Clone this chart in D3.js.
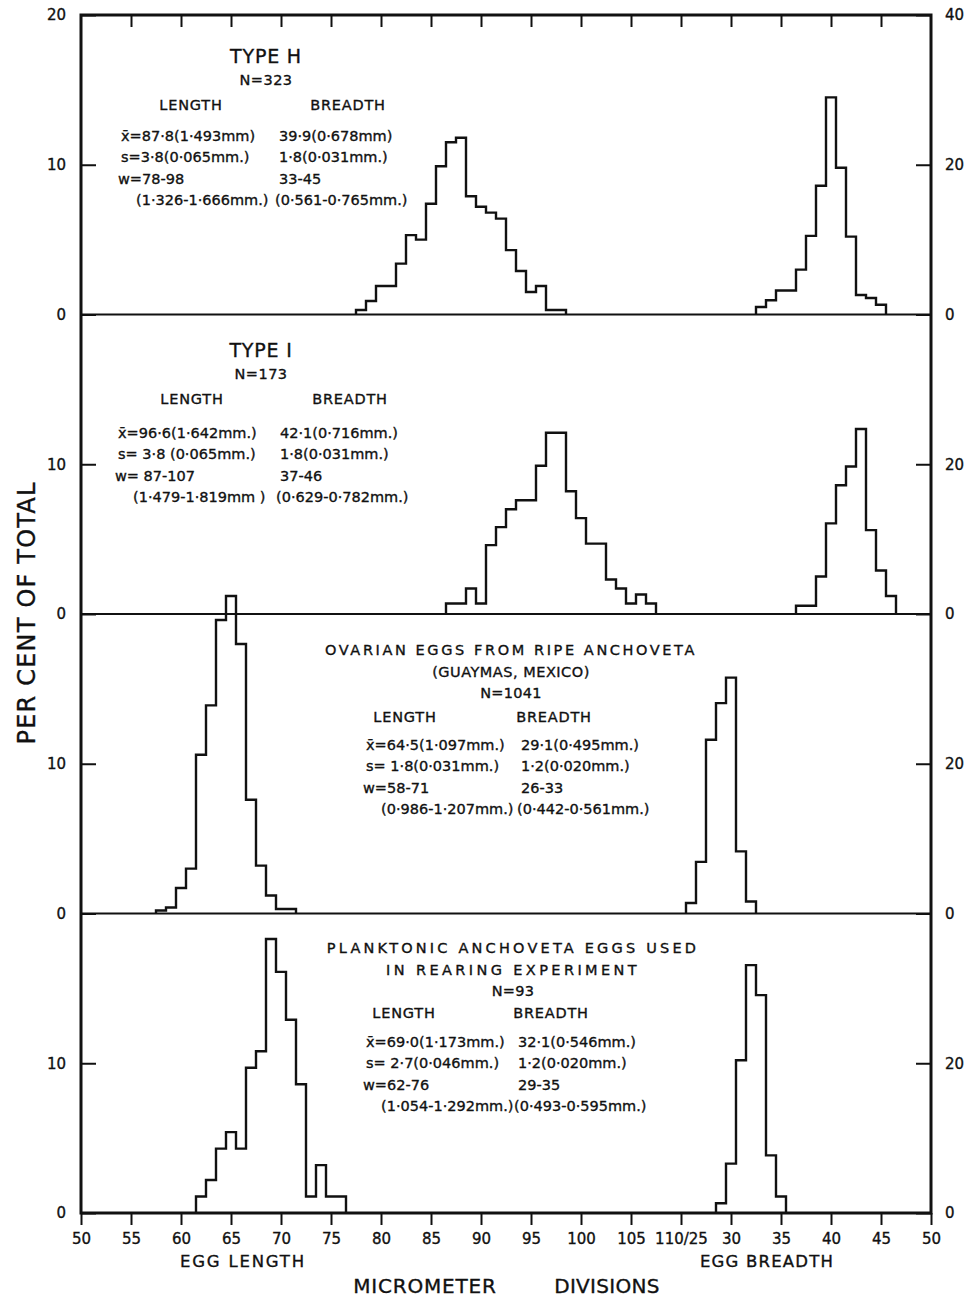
<!DOCTYPE html>
<html>
<head>
<meta charset="utf-8">
<script src="https://d3js.org/d3.v7.min.js"></script>
<style>
  body { margin: 0; background: #fff; }
  svg text { font-family: "DejaVu Sans", sans-serif; fill: #111; stroke: #111; stroke-width: 0.35px; }
</style>
</head>
<body>
<svg id="chart" width="974" height="1300"></svg>
<script>
// per cent of total for each micrometer division (bins centred on whole divisions)
const typeHLengthFrom = 78;
const typeHLength = [0.3, 0.9, 1.9, 1.9, 3.4, 5.3, 5.0, 7.4, 9.9, 11.5, 11.8, 7.9, 7.2, 6.8, 6.4, 4.3, 2.9, 1.5, 1.9, 0.3, 0.3];
const typeHBreadthFrom = 33;
const typeHBreadth = [1.0, 1.9, 3.2, 3.2, 6.0, 10.5, 17.2, 29.0, 19.6, 10.4, 2.6, 2.2, 1.3];

const typeILengthFrom = 87;
const typeILength = [0.7, 0.7, 1.7, 0.7, 4.6, 5.8, 7.0, 7.6, 7.6, 9.9, 12.1, 12.1, 8.2, 6.4, 4.7, 4.7, 2.3, 1.7, 0.7, 1.3, 0.7];
const typeIBreadthFrom = 37;
const typeIBreadth = [1.1, 1.1, 5.0, 12.1, 17.2, 19.7, 24.7, 11.2, 5.8, 2.4];

const ovarianLengthFrom = 58;
const ovarianLength = [0.2, 0.4, 1.7, 3.0, 10.6, 13.9, 19.6, 21.2, 18.0, 7.6, 3.2, 1.2, 0.3, 0.3];
const ovarianBreadthFrom = 26;
const ovarianBreadth = [1.4, 6.9, 23.2, 28.1, 31.5, 8.3, 1.6];

const planktonLengthFrom = 62;
const planktonLength = [1.1, 2.2, 4.3, 5.4, 4.3, 9.7, 10.8, 18.3, 16.1, 12.9, 8.6, 1.1, 3.2, 1.1, 1.1];
const planktonBreadthFrom = 29;
const planktonBreadth = [1.3, 6.6, 20.4, 33.1, 29.1, 7.7, 2.2];

// tick labels
const lengthTicks = [50, 55, 60, 65, 70, 75, 80, 85, 90, 95, 100, 105, 110];
const breadthTicks = [30, 35, 40, 45, 50];

// panel texts
const typeHTitle = ["TYPE H", "N=323"];
const typeHStats = [
  ["x\u0304=87\u00b78(1\u00b7493mm)", "39\u00b79(0\u00b7678mm)"],
  ["s=3\u00b78(0\u00b7065mm.)", "1\u00b78(0\u00b7031mm.)"],
  ["w=78-98", "33-45"],
  ["(1\u00b7326-1\u00b7666mm.)", "(0\u00b7561-0\u00b7765mm.)"]
];
const typeITitle = ["TYPE I", "N=173"];
const typeIStats = [
  ["x\u0304=96\u00b76(1\u00b7642mm.)", "42\u00b71(0\u00b7716mm.)"],
  ["s= 3\u00b78 (0\u00b7065mm.)", "1\u00b78(0\u00b7031mm.)"],
  ["w= 87-107", "37-46"],
  ["(1\u00b7479-1\u00b7819mm )", "(0\u00b7629-0\u00b7782mm.)"]
];
const ovarianTitle = ["OVARIAN EGGS FROM RIPE ANCHOVETA", "(GUAYMAS, MEXICO)", "N=1041"];
const ovarianStats = [
  ["x\u0304=64\u00b75(1\u00b7097mm.)", "29\u00b71(0\u00b7495mm.)"],
  ["s= 1\u00b78(0\u00b7031mm.)", "1\u00b72(0\u00b7020mm.)"],
  ["w=58-71", "26-33"],
  ["(0\u00b7986-1\u00b7207mm.)", "(0\u00b7442-0\u00b7561mm.)"]
];
const planktonTitle = ["PLANKTONIC ANCHOVETA EGGS USED", "IN REARING EXPERIMENT", "N=93"];
const planktonStats = [
  ["x\u0304=69\u00b70(1\u00b7173mm.)", "32\u00b71(0\u00b7546mm.)"],
  ["s= 2\u00b77(0\u00b7046mm.)", "1\u00b72(0\u00b7020mm.)"],
  ["w=62-76", "29-35"],
  ["(1\u00b7054-1\u00b7292mm.)", "(0\u00b7493-0\u00b7595mm.)"]
];

const panels = [
  { len: typeHLength, lenFrom: typeHLengthFrom, br: typeHBreadth, brFrom: typeHBreadthFrom,
    title: typeHTitle, stats: typeHStats, bigTitle: true, spacing: [0.8, 0.5],
    tx: 266, ty: 63, lenCx: 191, brCx: 348, hy: 110, sx: 121, bx: 279, sy: 141 },
  { len: typeILength, lenFrom: typeILengthFrom, br: typeIBreadth, brFrom: typeIBreadthFrom,
    title: typeITitle, stats: typeIStats, bigTitle: true, spacing: [0.8, 0.5],
    tx: 261, ty: 357, lenCx: 192, brCx: 350, hy: 404, sx: 118, bx: 280, sy: 438 },
  { len: ovarianLength, lenFrom: ovarianLengthFrom, br: ovarianBreadth, brFrom: ovarianBreadthFrom,
    title: ovarianTitle, stats: ovarianStats, bigTitle: false, spacing: [2.6, 0.5, 0.3],
    tx: 511, ty: 655, lenCx: 405, brCx: 554, hy: 722, sx: 366, bx: 521, sy: 750 },
  { len: planktonLength, lenFrom: planktonLengthFrom, br: planktonBreadth, brFrom: planktonBreadthFrom,
    title: planktonTitle, stats: planktonStats, bigTitle: false, spacing: [3.2, 3.4, 0.3],
    tx: 513, ty: 953, lenCx: 404, brCx: 551, hy: 1018, sx: 366, bx: 518, sy: 1047 }
];

const plotLeft = 81, plotRight = 931, plotTop = 15, panelH = 299.5;
const plotBottom = plotTop + 4 * panelH;

const svg = d3.select("#chart");

const xLen = d3.scaleLinear().domain([50, 110]).range([plotLeft, 681]);
const xBr = d3.scaleLinear().domain([25, 50]).range([681, plotRight]);

// step outline of a histogram
function stepPoints(vals, from) {
  const pts = [[from - 0.5, 0]];
  vals.forEach((v, i) => {
    pts.push([from + i - 0.5, v]);
    pts.push([from + i + 0.5, v]);
  });
  pts.push([from + vals.length - 0.5, 0]);
  return pts;
}

panels.forEach((p, i) => {
  const base = plotTop + (i + 1) * panelH;
  const yL = d3.scaleLinear().domain([0, 20]).range([base, base - panelH]);
  const yR = d3.scaleLinear().domain([0, 40]).range([base, base - panelH]);

  const lenLine = d3.line().x(d => xLen(d[0])).y(d => yL(d[1]));
  const brLine = d3.line().x(d => xBr(d[0])).y(d => yR(d[1]));

  svg.append("path")
    .attr("d", lenLine(stepPoints(p.len, p.lenFrom)))
    .attr("fill", "none").attr("stroke", "#111").attr("stroke-width", 2.4);
  svg.append("path")
    .attr("d", brLine(stepPoints(p.br, p.brFrom)))
    .attr("fill", "none").attr("stroke", "#111").attr("stroke-width", 2.4);

  // zero line across the panel
  svg.append("line")
    .attr("x1", plotLeft).attr("x2", plotRight)
    .attr("y1", base).attr("y2", base)
    .attr("stroke", "#111").attr("stroke-width", 2);

  const la = svg.append("g")
    .attr("transform", "translate(" + plotLeft + ",0)")
    .call(d3.axisLeft(yL).tickValues(i == 0 ? [0, 10, 20] : [0, 10])
      .tickSizeInner(-15).tickSizeOuter(0).tickPadding(15));
  const ra = svg.append("g")
    .attr("transform", "translate(" + plotRight + ",0)")
    .call(d3.axisRight(yR).tickValues(i == 0 ? [0, 20, 40] : [0, 20])
      .tickSizeInner(-15).tickSizeOuter(0).tickPadding(14));
  [la, ra].forEach(g => {
    g.select(".domain").remove();
    g.selectAll("line").attr("stroke", "#111").attr("stroke-width", 2);
    g.selectAll("text").attr("font-size", 15).style("font-family", "DejaVu Sans");
  });

  // descriptive text
  p.title.forEach((t, j) => {
    svg.append("text")
      .attr("x", p.tx).attr("y", p.ty + j * 21.5)
      .attr("text-anchor", "middle")
      .attr("font-size", p.bigTitle && j == 0 ? 19 : 14.5)
      .attr("letter-spacing", p.spacing[j])
      .text(t);
  });
  svg.append("text").attr("x", p.lenCx).attr("y", p.hy)
    .attr("text-anchor", "middle").attr("font-size", 14.5)
    .attr("letter-spacing", 0.8).text("LENGTH");
  svg.append("text").attr("x", p.brCx).attr("y", p.hy)
    .attr("text-anchor", "middle").attr("font-size", 14.5)
    .attr("letter-spacing", 0.8).text("BREADTH");
  p.stats.forEach((row, j) => {
    const lx = j == 3 ? p.sx + 15 : (j == 2 ? p.sx - 3 : p.sx);
    const rx = j == 3 ? p.bx - 4 : p.bx;
    svg.append("text").attr("x", lx).attr("y", p.sy + j * 21.3)
      .attr("font-size", 14.5).text(row[0]);
    svg.append("text").attr("x", rx).attr("y", p.sy + j * 21.3)
      .attr("font-size", 14.5).text(row[1]);
  });
});

// frame
svg.append("rect")
  .attr("x", plotLeft).attr("y", plotTop)
  .attr("width", plotRight - plotLeft).attr("height", plotBottom - plotTop)
  .attr("fill", "none").attr("stroke", "#111").attr("stroke-width", 3);

// bottom axis
const bl = svg.append("g").attr("transform", "translate(0," + plotBottom + ")")
  .call(d3.axisBottom(xLen).tickValues(lengthTicks).tickSize(12).tickPadding(8)
    .tickFormat(d => d == 110 ? "110/25" : d));
const bb = svg.append("g").attr("transform", "translate(0," + plotBottom + ")")
  .call(d3.axisBottom(xBr).tickValues(breadthTicks).tickSize(12).tickPadding(8));
// ticks along the top edge, pointing in
const tl = svg.append("g").attr("transform", "translate(0," + plotTop + ")")
  .call(d3.axisBottom(xLen).tickValues(lengthTicks.slice(1)).tickSize(12).tickFormat(""));
const tb = svg.append("g").attr("transform", "translate(0," + plotTop + ")")
  .call(d3.axisBottom(xBr).tickValues(breadthTicks.slice(0, -1)).tickSize(12).tickFormat(""));
[bl, bb, tl, tb].forEach(g => {
  g.select(".domain").remove();
  g.selectAll("line").attr("stroke", "#111").attr("stroke-width", 2);
  g.selectAll("text").attr("font-size", 15).style("font-family", "DejaVu Sans");
});

// axis titles
svg.append("text").attr("x", 243).attr("y", 1267)
  .attr("text-anchor", "middle").attr("font-size", 16.5)
  .attr("letter-spacing", 1.8).text("EGG LENGTH");
svg.append("text").attr("x", 767).attr("y", 1267)
  .attr("text-anchor", "middle").attr("font-size", 16.5)
  .attr("letter-spacing", 1.2).text("EGG BREADTH");
svg.append("text").attr("x", 425).attr("y", 1293)
  .attr("text-anchor", "middle").attr("font-size", 20)
  .attr("letter-spacing", 0.8).text("MICROMETER");
svg.append("text").attr("x", 607).attr("y", 1293)
  .attr("text-anchor", "middle").attr("font-size", 20)
  .attr("letter-spacing", 0.3).text("DIVISIONS");
svg.append("text")
  .attr("transform", "translate(35,613) rotate(-90)")
  .attr("text-anchor", "middle").attr("font-size", 24)
  .attr("letter-spacing", 1.2)
  .text("PER CENT OF TOTAL");
</script>
</body>
</html>
